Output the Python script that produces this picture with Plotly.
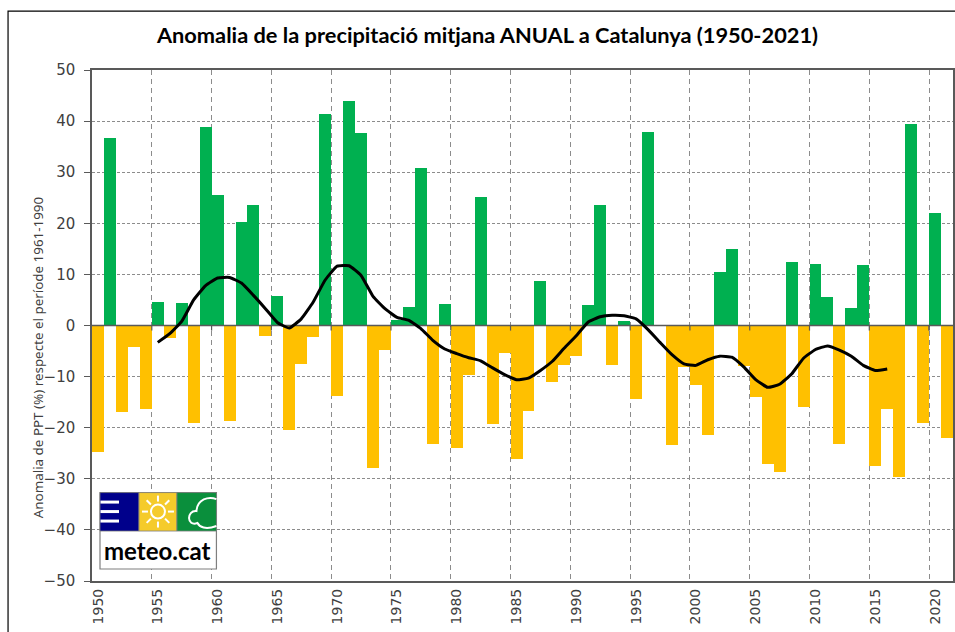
import math
import plotly.graph_objects as go

years = list(range(1950, 2022))
anomaly = [-24.7, 36.6, -17.0, -4.3, -16.4, 4.6, -2.4, 4.4, -19.0, 38.9,
           25.6, -18.6, 20.2, 23.5, -2.0, 5.8, -20.4, -7.6, -2.3, 41.3,
           -13.7, 43.9, 37.6, -27.8, -4.8, 1.0, 3.6, 30.9, -23.1, 4.3,
           -24.0, -9.7, 25.2, -19.3, -5.3, -26.1, -16.7, 8.7, -11.1, -7.8,
           -5.9, 4.1, 23.6, -7.7, 0.9, -14.4, 37.9, 0.0, -23.3, -8.1,
           -11.7, -21.4, 10.4, 15.0, -8.0, -13.9, -27.2, -28.6, 12.4, -16.0,
           12.1, 5.5, -23.1, 3.4, 11.9, -27.4, -16.4, -29.6, 39.5, -19.0,
           22.0, -22.0]
smooth_years = list(range(1955, 2017))
smooth = [-3.3, -1.6, 0.8, 5.0, 7.8, 9.3, 9.4, 8.3, 5.9, 3.3,
          0.6, -0.5, 1.3, 4.6, 8.9, 11.6, 11.7, 9.8, 5.7, 3.3,
          1.6, 1.0, -0.6, -2.9, -4.6, -5.5, -6.3, -6.9, -8.3, -9.6,
          -10.6, -10.3, -8.8, -7.0, -4.4, -2.0, 0.7, 1.7, 2.0, 1.9,
          1.3, -0.8, -3.3, -5.7, -7.5, -7.8, -6.7, -6.0, -6.2, -8.1,
          -10.6, -12.1, -11.5, -9.5, -6.4, -4.7, -4.0, -4.8, -6.0, -7.8,
          -8.8, -8.5]
label_years = list(range(1950, 2021, 5))
y_ticks = list(range(-50, 51, 10))
title = "Anomalia de la precipitació mitjana ANUAL a Catalunya (1950-2021)"
y_title = "Anomalia de PPT (%) respecte el període 1961-1990"

GREEN, ORANGE = "#00B050", "#FFC000"
AXIS, GRID = "#595959", "#8C8C8C"
W, H = 955, 632
L, R, T, B = 91.5, 953.0, 69.5, 581.0
TEXT = "#404040"

def fx(p):
    return (p - L) / (R - L)
def fy(p):
    return (B - p) / (B - T)

fig = go.Figure()
# invisible trace that keeps the primary axes (grid, frame) drawn
fig.add_trace(go.Scatter(x=[years[0]], y=[0], xaxis="x", yaxis="y", mode="lines",
                         line=dict(width=0), showlegend=False, hoverinfo="skip"))
fig.add_trace(go.Bar(x=years, y=anomaly, xaxis="x2", yaxis="y", width=1.0,
                     marker=dict(color=[GREEN if v >= 0 else ORANGE for v in anomaly],
                                 line=dict(width=0)),
                     showlegend=False))
fig.add_trace(go.Scatter(x=[years[0] - .5, years[-1] + .5], y=[0, 0], xaxis="x2", yaxis="y",
                         mode="lines", line=dict(color=AXIS, width=1.5), showlegend=False))
tx, ty = [], []
for yr in label_years[1:] + [2020]:
    tx += [yr - .5, yr - .5, None]
    ty += [0, -1, None]
fig.add_trace(go.Scatter(x=tx, y=ty, xaxis="x2", yaxis="y", mode="lines",
                         line=dict(color=AXIS, width=1.2), showlegend=False))
fig.add_trace(go.Scatter(x=smooth_years, y=smooth, xaxis="x2", yaxis="y", mode="lines",
                         line=dict(color="#000000", width=3, shape="spline", smoothing=0.4),
                         showlegend=False))

def rect(x0, y0, x1, y1, fill, line=None, w=1):
    return dict(type="rect", xref="paper", yref="paper", x0=fx(x0), x1=fx(x1), y0=fy(y1), y1=fy(y0),
                fillcolor=fill, line=dict(color=line or fill, width=w), layer="above")
def seg(x0, y0, x1, y1, col="#FFFFFF", w=2):
    return dict(type="line", xref="paper", yref="paper", x0=fx(x0), x1=fx(x1), y0=fy(y0), y1=fy(y1),
                line=dict(color=col, width=w), layer="above")

shapes = []
# outer frame (extends past the right and bottom of the picture)
shapes.append(dict(type="rect", xref="paper", yref="paper", x0=fx(7.5), x1=fx(990), y0=fy(670), y1=fy(10.5),
                   line=dict(color="#000000", width=1.2), fillcolor="rgba(0,0,0,0)", layer="above"))
# logo
shapes += [rect(99.5, 492.5, 216, 569, "#FFFFFF", "#7F7F7F", 1.2),
           rect(99.5, 492.5, 138.5, 531, "#00008B", "#7F7F7F", 0.8),
           rect(138.5, 492.5, 176.5, 531, "#F5CB2B", "#7F7F7F", 0.8),
           rect(176.5, 492.5, 216, 531, "#0A8F3C", "#7F7F7F", 0.8)]
for yy in (502, 511.5, 521):
    shapes.append(seg(100, yy, 118.5, yy, w=3))
sx, sy = 157.5, 511.5
shapes.append(dict(type="circle", xref="paper", yref="paper", x0=fx(sx - 7), x1=fx(sx + 7),
                   y0=fy(sy + 7), y1=fy(sy - 7), line=dict(color="#FFFFFF", width=2), layer="above"))
for k in range(8):
    a = k * math.pi / 4
    shapes.append(seg(sx + 10 * math.cos(a), sy + 10 * math.sin(a),
                      sx + 16 * math.cos(a), sy + 16 * math.sin(a)))
pts = ("M {} {} C {} {} {} {} {} {} C {} {} {} {} {} {} C {} {} {} {} {} {} L {} {}").format(
    fx(216), fy(526),
    fx(205), fy(530), fx(199), fy(527), fx(197), fy(523),
    fx(186), fy(527), fx(186), fy(510), fx(196), fy(511),
    fx(197), fy(499), fx(208), fy(496), fx(216), fy(499),
    fx(216), fy(499))
shapes.append(dict(type="path", xref="paper", yref="paper", path=pts,
                   line=dict(color="#FFFFFF", width=2), layer="above"))

fig.update_layout(
    width=W, height=H, autosize=False, bargap=0,
    margin=dict(l=L, r=W - R, t=T, b=H - B, autoexpand=False),
    paper_bgcolor="#FFFFFF", plot_bgcolor="#FFFFFF",
    font=dict(family="DejaVu Sans", size=14, color=TEXT),
    title=dict(text=title, x=(157 + 818) / 2 / W, xanchor="center", y=1 - 35 / H, yanchor="middle",
               font=dict(family="Lato", size=21.8, color="#000000", weight="bold")),
    xaxis=dict(domain=[0, 1], range=[1949.5, 2021.5], tickmode="array",
               tickvals=[y - .5 for y in label_years[1:]] + [2019.5], ticktext=[""] * 14,
               showgrid=True, gridcolor=GRID, griddash="5px,4px", gridwidth=1,
               showline=True, mirror=True, linecolor=AXIS, linewidth=1.5, ticks="", zeroline=False),
    xaxis2=dict(overlaying="x", anchor="y", side="bottom", range=[1949.5, 2021.5], tickmode="array",
                tickvals=label_years, ticktext=[str(y) for y in label_years], tickangle=-90,
                showgrid=False, ticks="", showline=False, zeroline=False, ticklabelstandoff=4,
                tickfont=dict(size=14, color=TEXT)),
    yaxis=dict(range=[-50, 50], tickmode="array", tickvals=y_ticks, ticks="outside", ticklen=6,
               tickcolor=AXIS, showgrid=True, gridcolor=GRID, griddash="3px,2px", gridwidth=1,
               showline=True, mirror=True, linecolor=AXIS, linewidth=1.5, zeroline=False,
               tickfont=dict(size=15, color=TEXT), ticklabelstandoff=6),
    shapes=shapes,
    annotations=[dict(text="meteo.cat", xref="paper", yref="paper", x=fx(157.5), y=fy(550),
                      xanchor="center", yanchor="middle", showarrow=False,
                      font=dict(family="Lato", size=24, color="#000000", weight="bold")),
                 dict(text=y_title, xref="paper", yref="paper", x=fx(37), y=fy(357.5), textangle=-90,
                      xanchor="center", yanchor="middle", showarrow=False,
                      font=dict(family="Noto Sans", size=13.4, color=TEXT))],
)
fig.write_html("out.html", post_script="document.body.style.margin='0';",
               config=dict(displayModeBar=False))
